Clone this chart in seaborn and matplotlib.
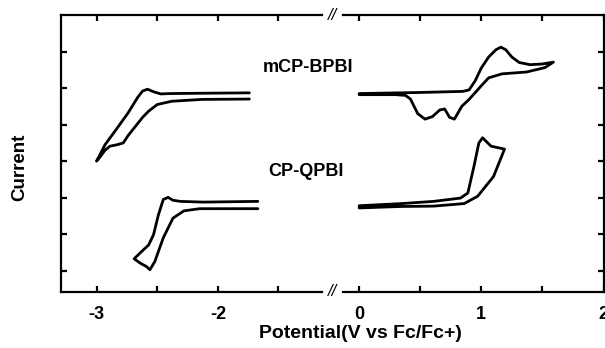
import matplotlib
matplotlib.use("Agg")
import matplotlib.pyplot as plt
import seaborn as sns

# ---- data ----
# mCP-BPBI, reduction region (left panel): closed CV loop
mcp_left_x = [-1.74, -2.10, -2.40, -2.47, -2.53, -2.58, -2.62, -2.66, -2.74, -2.82, -2.93, -3.00,
              -2.97, -2.93, -2.89, -2.83, -2.78, -2.74, -2.68, -2.62, -2.57, -2.50, -2.38, -2.13, -1.74]
mcp_left_y = [5.87, 5.86, 5.85, 5.84, 5.90, 5.97, 5.92, 5.75, 5.32, 4.95, 4.45, 4.00,
              4.12, 4.30, 4.41, 4.45, 4.50, 4.70, 4.95, 5.20, 5.37, 5.55, 5.64, 5.69, 5.70]
# CP-QPBI, reduction region (left panel)
cpq_left_x = [-1.67, -2.12, -2.31, -2.37, -2.41, -2.45, -2.49, -2.53, -2.57, -2.64, -2.69,
              -2.64, -2.59, -2.56, -2.52, -2.45, -2.37, -2.28, -2.15, -1.67]
cpq_left_y = [2.90, 2.88, 2.90, 2.93, 3.01, 2.95, 2.53, 1.99, 1.71, 1.49, 1.33,
              1.21, 1.12, 1.03, 1.25, 1.90, 2.44, 2.64, 2.70, 2.70]
# mCP-BPBI, oxidation region (right panel)
mcp_right_x = [0.00, 0.50, 0.85, 0.90, 0.95, 1.00, 1.06, 1.12, 1.16, 1.20, 1.25, 1.31, 1.40, 1.50, 1.59,
               1.52, 1.37, 1.17, 1.06, 1.01, 0.90, 0.84, 0.78, 0.74, 0.70, 0.66, 0.60, 0.54, 0.48,
               0.42, 0.38, 0.30, 0.00]
mcp_right_y = [5.85, 5.88, 5.91, 5.95, 6.20, 6.55, 6.85, 7.05, 7.12, 7.05, 6.85, 6.70, 6.64, 6.66, 6.71,
               6.56, 6.44, 6.39, 6.28, 6.10, 5.69, 5.50, 5.15, 5.20, 5.43, 5.40, 5.22, 5.15, 5.30,
               5.70, 5.80, 5.82, 5.82]
# CP-QPBI, oxidation region (right panel)
cpq_right_x = [0.00, 0.35, 0.61, 0.83, 0.89, 0.94, 0.98, 1.01, 1.08, 1.19,
               1.10, 0.97, 0.86, 0.61, 0.34, 0.00]
cpq_right_y = [2.78, 2.84, 2.90, 2.99, 3.13, 3.86, 4.50, 4.64, 4.41, 4.33,
               3.58, 3.04, 2.84, 2.77, 2.76, 2.72]

left_ticks = [-3, -2.5, -2, -1.5]
left_labels = ["-3", "", "-2", ""]
right_ticks = [0, 0.5, 1, 1.5, 2]
right_labels = ["0", "", "1", "", "2"]
y_ticks = [1, 2, 3, 4, 5, 6, 7]

sns.set_style("ticks")
plt.rcParams["font.family"] = ["Liberation Sans", "DejaVu Sans"]
plt.rcParams["font.weight"] = "bold"
plt.rcParams["text.color"] = "black"
plt.rcParams["axes.labelcolor"] = "black"
plt.rcParams["xtick.color"] = "black"
plt.rcParams["ytick.color"] = "black"
plt.rcParams["axes.edgecolor"] = "black"

W, H = 605, 348
fig = plt.figure(figsize=(W / 100, H / 100), dpi=100)
bot = 1 - 292 / H
top = 1 - 15 / H
split = 331
axL = fig.add_axes([61 / W, bot, (split - 61) / W, top - bot])
axR = fig.add_axes([split / W, bot, (603.5 - split) / W, top - bot])

lw = 2.0
sns.lineplot(x=mcp_left_x, y=mcp_left_y, sort=False, estimator=None, ax=axL, color="black", lw=lw)
sns.lineplot(x=cpq_left_x, y=cpq_left_y, sort=False, estimator=None, ax=axL, color="black", lw=lw)
sns.lineplot(x=mcp_right_x, y=mcp_right_y, sort=False, estimator=None, ax=axR, color="black", lw=lw)
sns.lineplot(x=cpq_right_x, y=cpq_right_y, sort=False, estimator=None, ax=axR, color="black", lw=lw)
for ln in axL.lines + axR.lines:
    ln.set_solid_joinstyle("round")
    ln.set_solid_capstyle("round")

ylim = (0.42, 8.0)
xL = (-3.293, -1.067)
xR = (-0.23, 2.0)
axL.set_xlim(*xL)
axR.set_xlim(*xR)
for ax in (axL, axR):
    ax.set_ylim(*ylim)
    ax.set_yticks(y_ticks)
    ax.set_xlabel("")
    ax.set_ylabel("")
    for s in ax.spines.values():
        s.set_linewidth(1.6)
        s.set_color("black")

axL.set_xticks(left_ticks)
axL.set_xticklabels(left_labels)
axR.set_xticks(right_ticks)
axR.set_xticklabels(right_labels)

axL.spines["right"].set_visible(False)
axR.spines["left"].set_visible(False)
axL.spines["top"].set_bounds(xL[0], -3 + (322 - 96.5) / 121.3)
axL.spines["bottom"].set_bounds(xL[0], -3 + (322 - 96.5) / 121.3)
axR.spines["top"].set_bounds((343 - 359) / 121.5, xR[1])
axR.spines["bottom"].set_bounds((343 - 359) / 121.5, xR[1])

tick_fs = 13
axL.tick_params(axis="x", direction="in", top=True, bottom=True, length=4, width=1.6,
                labelsize=tick_fs, pad=10, colors="black")
axL.tick_params(axis="y", direction="in", left=True, right=False, length=4, width=1.6,
                labelleft=False, colors="black")
axR.tick_params(axis="x", direction="in", top=True, bottom=True, length=4, width=1.6,
                labelsize=tick_fs, pad=10, colors="black")
axR.tick_params(axis="y", direction="in", left=False, right=True, length=4, width=1.6,
                labelleft=False, labelright=False, colors="black")
for ax in (axL, axR):
    for t in ax.get_xticklabels():
        t.set_fontweight("bold")
        t.set_color("black")

# break marks
for yy in (15, 292):
    fig.text(332.5 / W, 1 - yy / H, "//", ha="center", va="center", fontsize=12,
             fontweight="normal", fontstyle="italic", color="black")

fig.text(308 / W, 1 - 68 / H, "mCP-BPBI", ha="center", va="center", fontsize=13,
         fontweight="bold", color="black")
fig.text(305.5 / W, 1 - 172 / H, "CP-QPBI", ha="center", va="center", fontsize=13,
         fontweight="bold", color="black")
fig.text(360 / W, 1 - 333 / H, "Potential(V vs Fc/Fc+)", ha="center", va="center",
         fontsize=14, fontweight="bold", color="black")
fig.text(19.5 / W, 1 - 167 / H, "Current", ha="center", va="center", rotation=90,
         fontsize=13.5, fontweight="bold", color="black")

fig.savefig("out.png", dpi=100)
